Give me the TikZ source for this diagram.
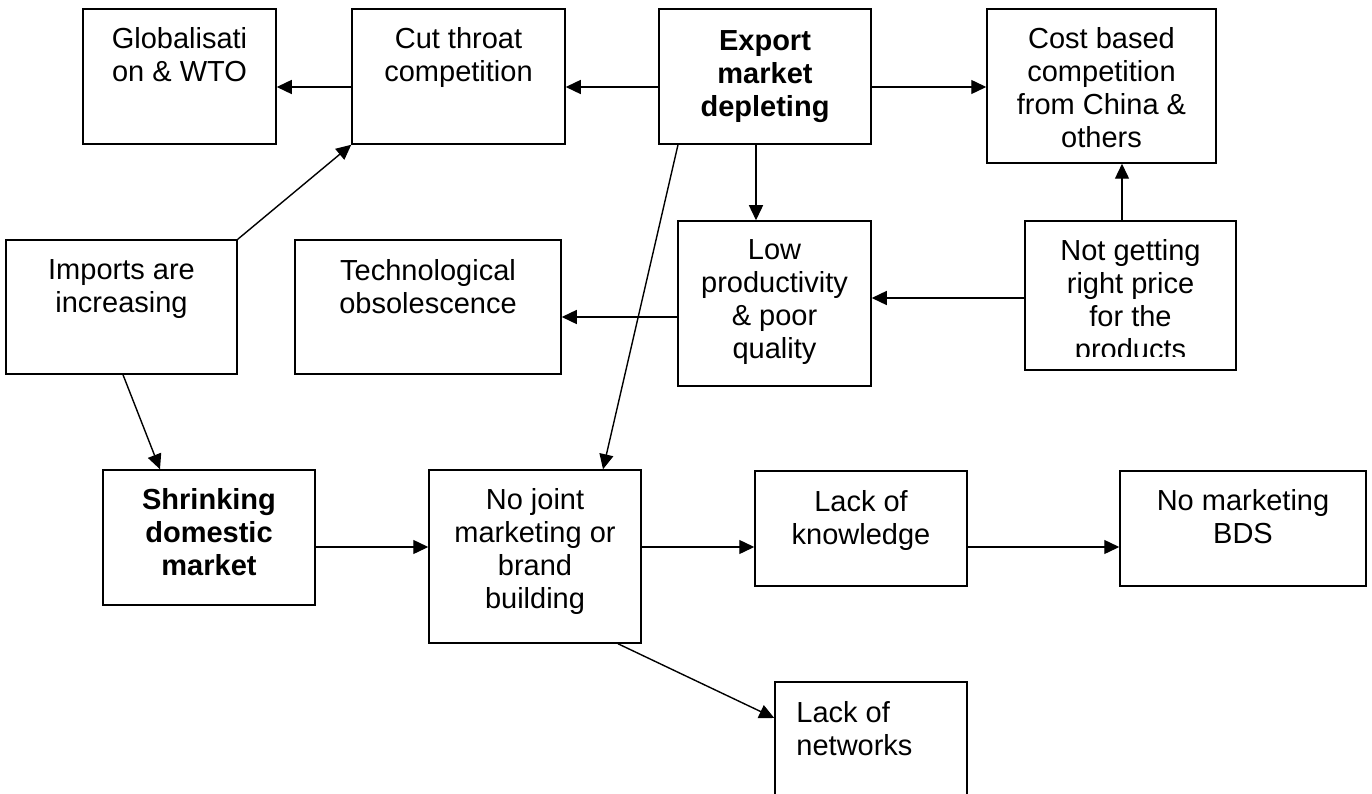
\documentclass[tikz,border=0pt]{standalone}
\usepackage{fontspec}
\setmainfont{Liberation Sans}
\usetikzlibrary{arrows.meta}
\begin{document}
\begin{tikzpicture}[x=1pt,y=-1pt,
  box/.style={draw, line width=1.5pt, inner sep=0pt, rectangle},
  txt/.style={anchor=north, inner sep=0pt, align=center, font=\fontsize{29}{33}\selectfont},
  arr/.style={line width=1.4pt, -{Triangle[length=15pt,width=14pt]}}]
\useasboundingbox (0,0) rectangle (1372,794);
\clip (0,0) rectangle (1372,794);

% boxes
\node[box, minimum width=193pt, minimum height=135pt] (glob)    at (179.5,76.5) {};
\node[box, minimum width=213pt, minimum height=135pt] (cut)     at (458.5,76.5) {};
\node[box, minimum width=212pt, minimum height=135pt] (export)  at (765,76.5) {};
\node[box, minimum width=229pt, minimum height=154pt] (cost)    at (1101.5,86) {};
\node[box, minimum width=193pt, minimum height=165pt] (lowprod) at (774.5,303.5) {};
\node[box, minimum width=211pt, minimum height=149pt] (notget)  at (1130.5,295.5) {};
\node[box, minimum width=266pt, minimum height=134pt] (tech)    at (428,307) {};
\node[box, minimum width=231pt, minimum height=134pt] (imports) at (121.5,307) {};
\node[box, minimum width=212pt, minimum height=135pt] (shrink)  at (209,537.5) {};
\node[box, minimum width=212pt, minimum height=173pt] (nojoint) at (535,556.5) {};
\node[box, minimum width=212pt, minimum height=115pt] (lok)     at (861,528.5) {};
\node[box, minimum width=246pt, minimum height=115pt] (nomark)  at (1243,528.5) {};
\node[box, minimum width=192pt, minimum height=148pt] (networks) at (871,756) {};

% texts
\node[txt] (glob-t)    at ([yshift=-19pt]glob.north) {Globalisati\\on \& WTO};
\node[txt] (cut-t)     at ([yshift=-19pt]cut.north) {Cut throat\\competition};
\node[txt, font=\fontsize{29}{33}\selectfont\bfseries] (export-t) at ([yshift=-22pt]export.north) {Export\\market\\depleting};
\node[txt] (cost-t)    at ([yshift=-19pt]cost.north) {Cost based\\competition\\from China \&\\others};
\node[txt] (lowprod-t) at ([yshift=-19pt]lowprod.north) {Low\\productivity\\\& poor\\quality};
\begin{scope}
  \clip (notget.north west) rectangle ([yshift=14pt]notget.south east);
  \node[txt] (notget-t) at ([yshift=-19pt]notget.north) {Not getting\\right price\\for the\\products};
\end{scope}
\node[txt] (tech-t)    at ([yshift=-20pt]tech.north) {Technological\\obsolescence};
\node[txt] (imports-t) at ([yshift=-20pt]imports.north) {Imports are\\increasing};
\node[txt, font=\fontsize{29}{33}\selectfont\bfseries] (shrink-t) at ([yshift=-19pt]shrink.north) {Shrinking\\domestic\\market};
\node[txt] (nojoint-t) at ([yshift=-19pt]nojoint.north) {No joint\\marketing or\\brand\\building};
\node[txt] (lok-t)     at ([yshift=-20pt]lok.north) {Lack of\\knowledge};
\node[txt] (nomark-t)  at ([yshift=-19pt]nomark.north) {No marketing\\BDS};
\node[txt, anchor=north west, align=left] (networks-t) at ([xshift=22pt,yshift=-20pt]networks.north west) {Lack of\\networks};

% reference levels for connectors
\coordinate (r1) at (0,87);
\coordinate (r2) at (0,298);
\coordinate (r3) at (0,317);
\coordinate (r4) at (0,547);
\coordinate (r5) at (0,718);
\coordinate (c1) at (756,0);
\coordinate (c2) at (678,0);
\coordinate (c3) at (603,0);
\coordinate (c4) at (1122,0);
\coordinate (c5) at (123,0);
\coordinate (c6) at (160,0);
\coordinate (c7) at (618,0);

% connectors
\draw[arr] (cut.west |- r1) -- (glob.east |- r1);
\draw[arr] (export.west |- r1) -- (cut.east |- r1);
\draw[arr] (export.east |- r1) -- (cost.west |- r1);
\draw[arr] (export.south -| c1) -- (lowprod.north -| c1);
\draw[arr] (export.south -| c2) -- (nojoint.north -| c3);
\draw[arr] (notget.north -| c4) -- (cost.south -| c4);
\draw[arr] (notget.west |- r2) -- (lowprod.east |- r2);
\draw[arr] (lowprod.west |- r3) -- (tech.east |- r3);
\draw[arr] (imports.north east) -- (cut.south west);
\draw[arr] (imports.south -| c5) -- (shrink.north -| c6);
\draw[arr] (shrink.east |- r4) -- (nojoint.west |- r4);
\draw[arr] (nojoint.east |- r4) -- (lok.west |- r4);
\draw[arr] (lok.east |- r4) -- (nomark.west |- r4);
\draw[arr] (nojoint.south -| c7) -- (networks.west |- r5);
\end{tikzpicture}
\end{document}
